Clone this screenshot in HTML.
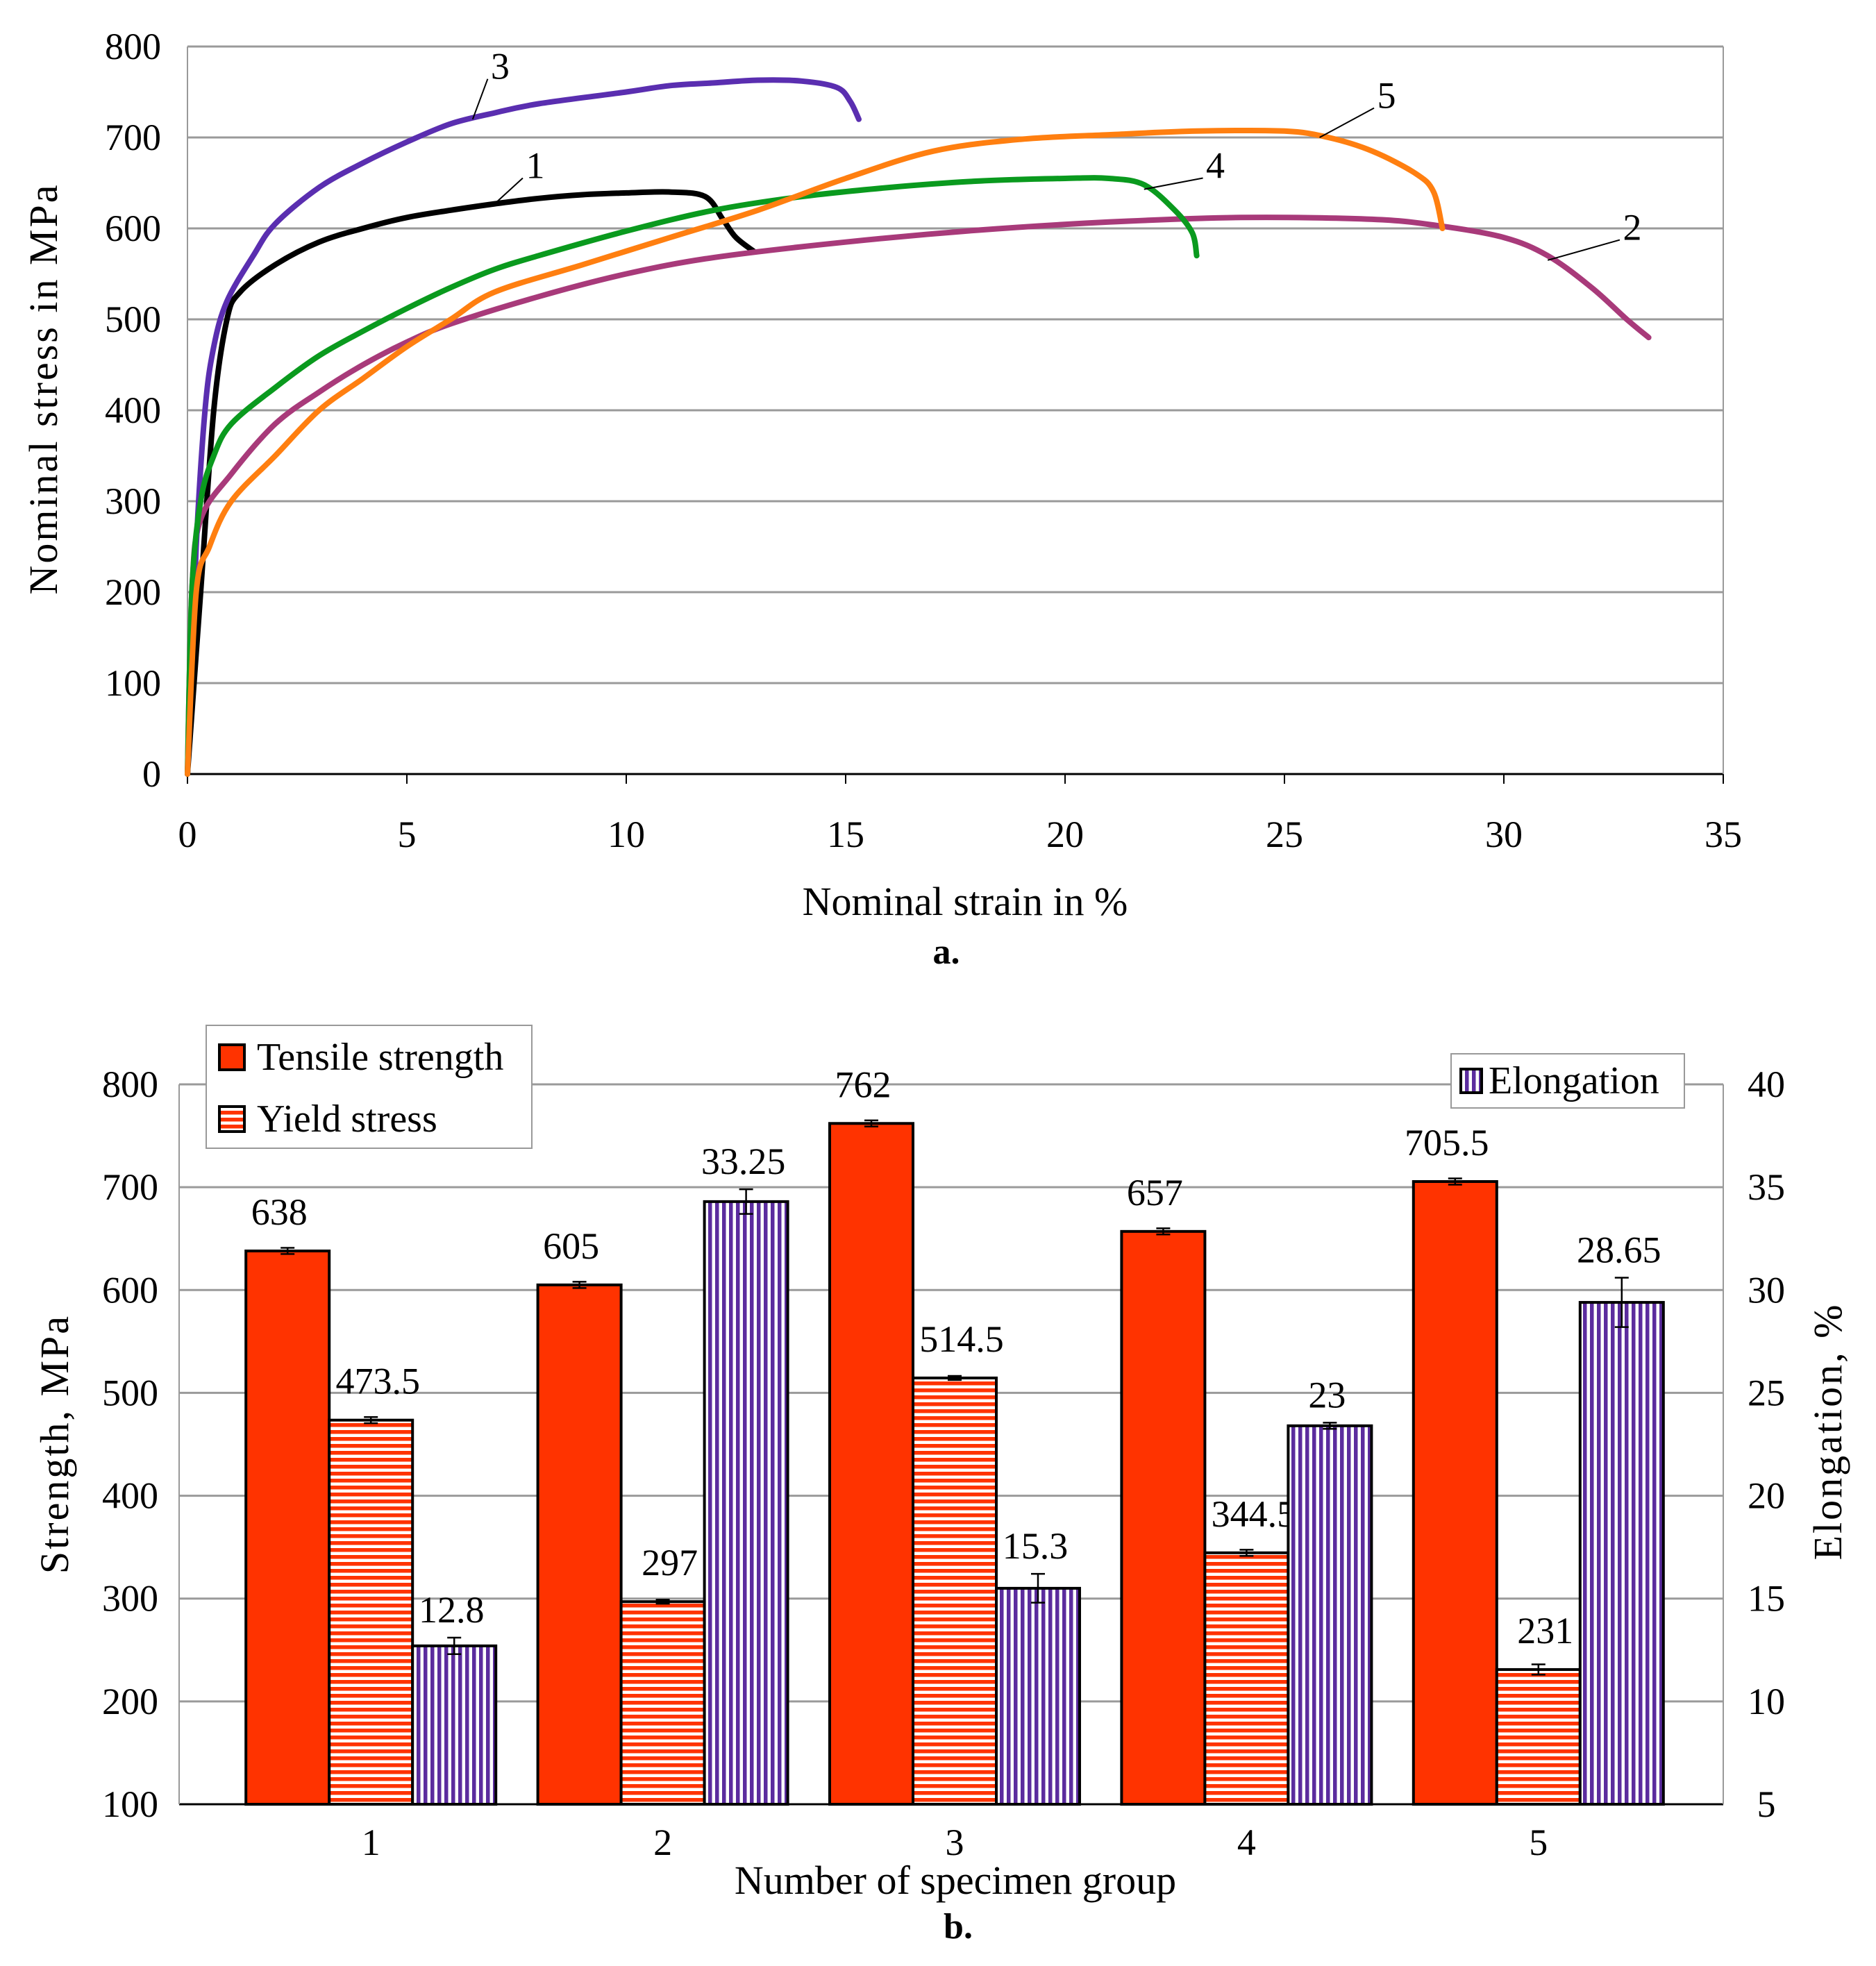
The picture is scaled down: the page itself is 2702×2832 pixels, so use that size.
<!DOCTYPE html>
<html><head><meta charset="utf-8"><style>
html,body{margin:0;padding:0;background:#fff}
svg{display:block}
text{font-family:"Liberation Serif",serif;fill:#000}
</style></head><body>
<svg id="fig" width="2702" height="2832" viewBox="0 0 2702 2832" xmlns="http://www.w3.org/2000/svg">
<defs>
<pattern id="hstripe" width="10" height="10" patternUnits="userSpaceOnUse"><rect width="10" height="10" fill="#fff"/><rect width="10" height="5.5" fill="#FF3300"/></pattern>
<pattern id="vstripe" width="10" height="10" patternUnits="userSpaceOnUse"><rect width="10" height="10" fill="#fff"/><rect width="5.5" height="10" fill="#5B2C9E"/></pattern>
</defs>
<g id="chartA"></g>
<g id="chartB"></g>
</svg>
<script>
// ---- Chart a data ----
const xTicksA = [0,5,10,15,20,25,30,35];
const yTicksA = [0,100,200,300,400,500,600,700,800];
const curve1 = [[0,0],[0.3,200],[0.6,400],[0.9,500],[1.2,530],[2,560],[3,585],[4,600],[5,612],[6,620],[7,627],[8,633],[9,637],[10,639],[11,640],[11.8,635],[12.2,610],[12.5,590],[12.9,575]];
const curve2 = [[0,0],[0.1,200],[0.3,280],[1,330],[2,385],[3,420],[4,450],[5,475],[6,495],[8,525],[10,550],[12,568],[15,585],[18,598],[21,607],[24,612],[27,610],[28.5,603],[30,590],[31,570],[32,535],[32.8,500],[33.3,480]];
const curve3 = [[0,0],[0.2,250],[0.4,400],[0.6,470],[0.9,520],[1.5,570],[2,605],[3,645],[4,672],[5,695],[6,715],[7,727],[8,737],[10,750],[11,757],[12,760],[13,763],[14,762],[14.8,755],[15.1,740],[15.3,720]];
const curve4 = [[0,0],[0.1,200],[0.3,300],[0.6,350],[1,385],[2,425],[3,460],[4,487],[5,512],[6,535],[7,555],[8,570],[10,597],[12,620],[14,635],[16,645],[18,652],[20,655],[21,655],[21.8,648],[22.5,620],[22.9,595],[23,570]];
const curve5 = [[0,0],[0.2,200],[0.5,250],[1,300],[2,350],[3,400],[4,435],[5,470],[6,500],[7,530],[9,560],[11,590],[13,620],[15,655],[17,685],[19,698],[21,703],[23,707],[25,707],[26,700],[27,685],[28,660],[28.4,640],[28.6,600]];
const curveColors = ["#000000","#A83A7A","#5A2EB0","#0A9A1E","#FF7F10"];
const curveLabels = ["1","2","3","4","5"];
const labelAt = [[7,627],[31,565],[6.5,720],[21.8,643],[25.8,700]];
const labelPos = [[7.8,663],[32.8,595],[7,772],[23.3,663],[27.2,740]];

// ---- Chart b data ----
const groups = ["1","2","3","4","5"];
const tensile = [638,605,762,657,705.5];
const tensileErr = [3,3,3,3,3];
const yieldS = [473.5,297,514.5,344.5,231];
const yieldErr = [3,2,2,3,5];
const elong = [12.7,34.3,15.5,23.4,29.4];
const elongErr = [0.4,0.6,0.7,0.15,1.2];
const elongLabels = ["12.8","33.25","15.3","23","28.65"];
const tensileLabels = ["638","605","762","657","705.5"];
const yieldLabels = ["473.5","297","514.5","344.5","231"];
const yTicksB = [100,200,300,400,500,600,700,800];
const y2TicksB = [5,10,15,20,25,30,35,40];

const NS="http://www.w3.org/2000/svg";
function mk(parent,tag,attrs,txt){const e=document.createElementNS(NS,tag);for(const k in attrs)e.setAttribute(k,attrs[k]);if(txt!==undefined)e.textContent=txt;parent.appendChild(e);return e;}
function smooth(pts){
  let d='M'+pts[0][0].toFixed(1)+','+pts[0][1].toFixed(1);
  for(let i=0;i<pts.length-1;i++){
    const p0=pts[i-1]||pts[i],p1=pts[i],p2=pts[i+1],p3=pts[i+2]||p2;
    const c1=[p1[0]+(p2[0]-p0[0])/6,p1[1]+(p2[1]-p0[1])/6];
    const c2=[p2[0]-(p3[0]-p1[0])/6,p2[1]-(p3[1]-p1[1])/6];
    d+=' C'+c1[0].toFixed(1)+','+c1[1].toFixed(1)+' '+c2[0].toFixed(1)+','+c2[1].toFixed(1)+' '+p2[0].toFixed(1)+','+p2[1].toFixed(1);
  }
  return d;
}

// ===== Chart a =====
const A=document.getElementById('chartA');
const axL=270, axR=2482, ayT=67, ayB=1115;
const xA=v=>axL+(v/35)*(axR-axL);
const yA=v=>ayB-(v/800)*(ayB-ayT);
yTicksA.forEach(t=>{
  const g=mk(A,'line',{x1:axL,x2:axR,y1:yA(t),y2:yA(t),stroke:t===0?'#000':'#9a9a9a','stroke-width':3});
  
  
  const lb=mk(A,'text',{x:axL-38,y:yA(t)+18,'font-size':54,'text-anchor':'end'},String(t));
  
  
});
mk(A,'line',{x1:axL,x2:axL,y1:ayT,y2:ayB,stroke:'#999','stroke-width':2});
mk(A,'line',{x1:axR,x2:axR,y1:ayT,y2:ayB,stroke:'#999','stroke-width':2});
xTicksA.forEach(t=>{
  mk(A,'line',{x1:xA(t),x2:xA(t),y1:ayB,y2:ayB+14,stroke:'#000','stroke-width':2});
  const lb=mk(A,'text',{x:xA(t),y:1220,'font-size':54,'text-anchor':'middle'},String(t));
  
  
});
[curve1,curve2,curve3,curve4,curve5].forEach((c,i)=>{
  const pts=c.map(p=>[xA(p[0]),yA(p[1])]);
  const p=mk(A,'path',{d:smooth(pts),fill:'none',stroke:curveColors[i],'stroke-width':8,'stroke-linejoin':'round','stroke-linecap':'round'});
  
  
  const a=labelAt[i], b=labelPos[i];
  mk(A,'line',{x1:xA(a[0]),y1:yA(a[1]),x2:xA(b[0])-10,y2:yA(b[1])+10,stroke:'#000','stroke-width':2});
  const t=mk(A,'text',{x:xA(b[0])+8,y:yA(b[1])+10,'font-size':54,'text-anchor':'middle'},curveLabels[i]);
  
  
});
let t1=mk(A,'text',{x:1390,y:1318,'font-size':58,'text-anchor':'middle'},'Nominal strain in %');


let t2=mk(A,'text',{x:1363,y:1388,'font-size':52,'font-weight':'bold','text-anchor':'middle'},'a.');


let t3=mk(A,'text',{x:0,y:0,'font-size':58,'text-anchor':'middle','letter-spacing':3,transform:'translate(82,560) rotate(-90)'},'Nominal stress in MPa');



// ===== Chart b =====
const B=document.getElementById('chartB');
const bxL=258, bxR=2482, byT=1562, byB=2599;
const bandL=324, bandW=420.4, barW=120;
const yB=v=>byB-((v-100)/700)*(byB-byT);
const yB2=v=>byB-((v-5)/35)*(byB-byT);
yTicksB.forEach(t=>{
  const g=mk(B,'line',{x1:bxL,x2:bxR,y1:yB(t),y2:yB(t),stroke:t===100?'#000':'#9a9a9a','stroke-width':3});
  
  
  const lb=mk(B,'text',{x:bxL-30,y:yB(t)+18,'font-size':54,'text-anchor':'end'},String(t));
  
  
});
y2TicksB.forEach(t=>{
  const lb=mk(B,'text',{x:bxR+62,y:yB2(t)+18,'font-size':54,'text-anchor':'middle'},String(t));
  
  
});
mk(B,'line',{x1:bxL,x2:bxL,y1:byT,y2:byB,stroke:'#999','stroke-width':2});
mk(B,'line',{x1:bxR,x2:bxR,y1:byT,y2:byB,stroke:'#999','stroke-width':2});
function err(x,ytop,ybot){
  mk(B,'line',{x1:x,x2:x,y1:ytop,y2:ybot,stroke:'#000','stroke-width':2.5});
  mk(B,'line',{x1:x-10,x2:x+10,y1:ytop,y2:ytop,stroke:'#000','stroke-width':2.5});
  mk(B,'line',{x1:x-10,x2:x+10,y1:ybot,y2:ybot,stroke:'#000','stroke-width':2.5});
}
groups.forEach((g,i)=>{
  const c=bandL+bandW*(i+0.5);
  const x0=c-1.5*barW;
  let r=mk(B,'rect',{x:x0,y:yB(tensile[i]),width:barW,height:byB-yB(tensile[i]),fill:'#FF3300',stroke:'#000','stroke-width':4});
  
  
  err(x0+barW/2,yB(tensile[i]+tensileErr[i]),yB(tensile[i]-tensileErr[i]));
  let l=mk(B,'text',{x:x0+barW/2-12,y:yB(tensile[i])-38,'font-size':54,'text-anchor':'middle'},tensileLabels[i]);
  
  
  r=mk(B,'rect',{x:x0+barW,y:yB(yieldS[i]),width:barW,height:byB-yB(yieldS[i]),fill:'url(#hstripe)',stroke:'#000','stroke-width':4});
  
  
  err(x0+1.5*barW,yB(yieldS[i]+yieldErr[i]),yB(yieldS[i]-yieldErr[i]));
  l=mk(B,'text',{x:x0+1.5*barW+10,y:yB(yieldS[i])-38,'font-size':54,'text-anchor':'middle'},yieldLabels[i]);
  
  
  r=mk(B,'rect',{x:x0+2*barW,y:yB2(elong[i]),width:barW,height:byB-yB2(elong[i]),fill:'url(#vstripe)',stroke:'#000','stroke-width':4});
  
  
  err(x0+2.5*barW,yB2(elong[i]+elongErr[i]),yB2(elong[i]-elongErr[i]));
  l=mk(B,'text',{x:x0+2.5*barW-4,y:yB2(elong[i]+elongErr[i])-22,'font-size':54,'text-anchor':'middle'},elongLabels[i]);
  
  
  l=mk(B,'text',{x:c,y:2672,'font-size':54,'text-anchor':'middle'},g);
  
  
});
let lg=mk(B,'g',{});


mk(lg,'rect',{x:297,y:1477,width:469,height:177,fill:'#fff',stroke:'#999','stroke-width':2});
mk(lg,'rect',{x:316,y:1505,width:36,height:36,fill:'#FF3300',stroke:'#000','stroke-width':4});
mk(lg,'text',{x:370,y:1541,'font-size':56},'Tensile strength');
mk(lg,'rect',{x:316,y:1594,width:36,height:36,fill:'url(#hstripe)',stroke:'#000','stroke-width':4});
mk(lg,'text',{x:370,y:1630,'font-size':56},'Yield stress');
let lg2=mk(B,'g',{});


mk(lg2,'rect',{x:2090,y:1518,width:336,height:78,fill:'#fff',stroke:'#999','stroke-width':2});
mk(lg2,'rect',{x:2104,y:1540,width:30,height:34,fill:'url(#vstripe)',stroke:'#000','stroke-width':4});
mk(lg2,'text',{x:2144,y:1575,'font-size':56},'Elongation');
let tb=mk(B,'text',{x:1376,y:2728,'font-size':58,'text-anchor':'middle'},'Number of specimen group');


tb=mk(B,'text',{x:1380,y:2792,'font-size':52,'font-weight':'bold','text-anchor':'middle'},'b.');


tb=mk(B,'text',{x:0,y:0,'font-size':58,'text-anchor':'middle','letter-spacing':3,transform:'translate(98,2080) rotate(-90)'},'Strength, MPa');


tb=mk(B,'text',{x:0,y:0,'font-size':58,'text-anchor':'middle','letter-spacing':3,transform:'translate(2652,2062) rotate(-90)'},'Elongation, %');


</script>
</body></html>
